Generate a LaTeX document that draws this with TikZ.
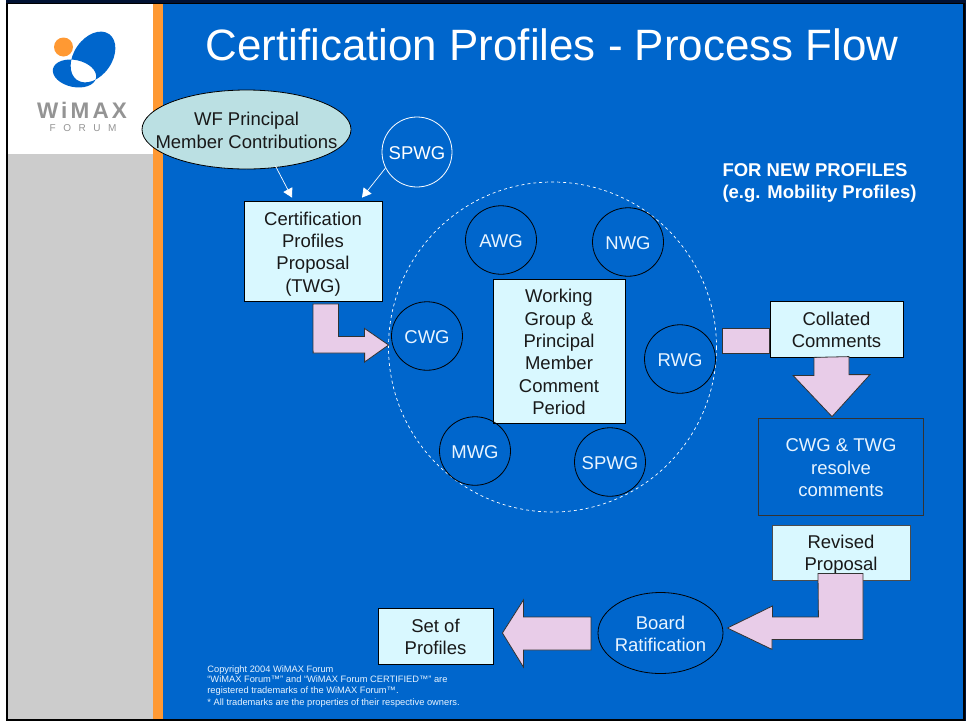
\documentclass[tikz,border=0pt]{standalone}
\usepackage{fontspec}
\setmainfont{Liberation Sans}
\newfontfamily\logofont[LetterSpace=14]{Liberation Sans Bold}
\newfontfamily\forumfont[LetterSpace=75]{Liberation Sans}
\usepackage{xcolor}
\usetikzlibrary{positioning}
\usetikzlibrary{arrows.meta}
\usetikzlibrary{shapes.geometric}
\definecolor{wfblue}{HTML}{0066CC}
\definecolor{wforange}{HTML}{FF9933}
\definecolor{wfgrey}{HTML}{CCCCCC}
\definecolor{wfnavy}{HTML}{001133}
\definecolor{boxcyan}{HTML}{D9F8FF}
\definecolor{ellcyan}{HTML}{BBE0E3}
\definecolor{arrowpink}{HTML}{E8CCE8}
\definecolor{softwhite}{HTML}{E8F4FF}
\newcommand{\slim}[1]{\makebox[0pt]{\raisebox{-7pt}[0pt][0pt]{\begin{tabular}{@{}c@{}}#1\end{tabular}}}}
\newcommand{\lowered}[1]{\rule{0pt}{#1}}
\tikzset{wg node/.style={ellipse,draw=black,minimum width=71pt,minimum height=68.5pt,inner sep=0pt,text=softwhite,font=\fontsize{18.5}{22.3}\selectfont},}
\tikzset{box node/.style={rectangle,draw=black,fill=boxcyan,inner sep=0pt,align=center,text=black!90,font=\fontsize{18.5}{22.3}\selectfont},}
\tikzset{block arrow/.style={draw=black!80,fill=arrowpink,line width=0.8pt,line join=miter},}
\tikzset{thin arrow/.style={draw=white,line width=0.7pt,-{Triangle[length=9pt,width=10pt]}},}
\begin{document}
\begin{tikzpicture}[x=1pt, y=-1pt, node distance=20pt, on grid, thick]
	\useasboundingbox (0,0) rectangle (966,721);
	\fill[white] (0,0) rectangle (966,721);
	\fill[wfnavy] (6,0) rectangle (966,721);
	\fill[black] (6,3) rectangle (964.5,720.5);
	\fill[wfblue] (163,4) rectangle (963,719);
	\fill[white] (8,4) rectangle (153,154);
	\fill[wfgrey] (8,154) rectangle (153,719);
	\fill[wforange] (153,4) rectangle (163,719);

	\fill[wforange] (63.5,47) circle (9.5);
	\fill[wfblue,even odd rule] (93,57) ellipse [x radius=28, y radius=19, rotate=55]
		(74.5,73.5) ellipse [x radius=22, y radius=13.5, rotate=-12];
	\node[text=black!42,font=\logofont\fontsize{22.5}{22.5}\selectfont] (logoname) at (82,110) {WiMAX};
	\node[text=black!42,font=\forumfont\fontsize{10}{10}\selectfont] (logoforum) at (83,128) {FORUM};

	\node[white,font=\fontsize{43.9}{50}\selectfont] (title) at (552,45) {Certification Profiles - Process Flow};
	\node[white,align=left,font=\bfseries\fontsize{18.5}{22}\selectfont] (newprofiles) at (819.5,183) {FOR NEW PROFILES\\(e.g. Mobility Profiles)};

	\draw[white,dashed,line width=0.7pt] (552.5,347) ellipse [x radius=164, y radius=165];

	\node[box node,minimum width=132pt,minimum height=144pt] (period) at (559,351) {\lowered{15.4pt}Working\\Group \&\\Principal\\Member\\Comment\\Period};
	\node[wg node] (awg) [above left=111pt and 58pt of period] {\slim{AWG}};
	\node[wg node] (nwg) [above right=109pt and 69pt of period] {\slim{NWG}};
	\node[wg node] (cwg) [above left=15pt and 132pt of period] {\slim{CWG}};
	\node[wg node] (rwg) [below right=8pt and 121pt of period] {\slim{RWG}};
	\node[wg node] (mwg) [below left=100pt and 84pt of period] {\slim{MWG}};
	\node[wg node] (spwgb) [below right=111pt and 51pt of period] {\slim{SPWG}};

	\node[box node,minimum width=138pt,minimum height=100pt] (proposal) at (313,251) {\lowered{19pt}Certification\\Profiles\\Proposal\\(TWG)};
	\node[ellipse,draw=black,fill=ellcyan,inner sep=0pt,minimum width=209pt,minimum height=79pt,text=black!90,font=\fontsize{18.5}{23}\selectfont] (contrib) [above left=121.5pt and 66.5pt of proposal] {\slim{WF Principal\\Member Contributions}};
	\node[wg node,draw=white,text=white,minimum width=70pt,minimum height=70pt] (spwgt) [above right=99pt and 104pt of proposal] {\slim{SPWG}};

	\node[box node,minimum width=133pt,minimum height=56pt] (collated) at (836.5,329) {\lowered{15.4pt}Collated\\Comments};
	\node[box node,draw=black!80,fill=wfblue,text=softwhite,minimum width=165pt,minimum height=97pt] (resolve) [below right=137.5pt and 4.5pt of collated] {\lowered{15.4pt}CWG \& TWG\\resolve\\comments};
	\node[box node,draw=black!70,minimum width=138pt,minimum height=55pt] (revised) [below=86pt of resolve] {\lowered{17.4pt}Revised\\Proposal};
	\node[wg node,minimum width=125pt,minimum height=81pt] (board) [below left=80.5pt and 180.5pt of revised] {\slim{Board\\Ratification}};
	\node[box node,minimum width=115pt,minimum height=56pt] (profiles) [below left=3pt and 225pt of board] {\lowered{15.4pt}Set of\\Profiles};

	\node[softwhite,anchor=north west,align=left,inner sep=0pt,font=\fontsize{9.3}{10.6}\selectfont] (copyright) at (207,665) {Copyright 2004 WiMAX Forum\\“WiMAX Forum™” and “WiMAX Forum CERTIFIED™” are\\registered trademarks of the WiMAX Forum™.\\[1.5pt]* All trademarks are the properties of their respective owners.};

	\draw[thin arrow] ([yshift=2pt]contrib.-53) -- ([shift={(-21,-3)}]proposal.north);
	\draw[thin arrow] (spwgt.-153) -- ([shift={(49,-3)}]proposal.north);

	\draw[block arrow] ([yshift=-2.5pt]proposal.south) -- ++(25.5,0) -- ++(0,32.5) -- ++(26,0) -- ++(0,-8)
		-- ([shift={(-2.5,9)}]cwg.west) -- ++(-24,17) -- ++(0,-9) -- ++(-51.5,0) -- cycle;
	\draw[block arrow] ([yshift=1pt]collated.west) -- ++(-47,0) -- ++(0,25) -- ++(47,0) -- cycle;
	\draw[block arrow] ([xshift=-22.5pt]collated.south) -- ++(0,18) -- ++(-21,0)
		-- ([shift={(-9,-1)}]resolve.north) -- ++(38,-42) -- ++(-21,0) -- ++(0,-18) -- cycle;
	\draw[block arrow] ([shift={(-23,-7)}]revised.south) -- ++(45,0) -- ++(0,66) -- ++(-91,0) -- ++(0,10)
		-- ([shift={(4,-5)}]board.east) -- ++(45,-22) -- ++(0,11) -- ++(46,0) -- cycle;
	\draw[block arrow] ([shift={(9,-3)}]profiles.east) -- ++(21,-33) -- ++(0,17) -- ++(67.5,0) -- ++(0,33) -- ++(-67.5,0) -- ++(0,17) -- cycle;
\end{tikzpicture}
\end{document}
